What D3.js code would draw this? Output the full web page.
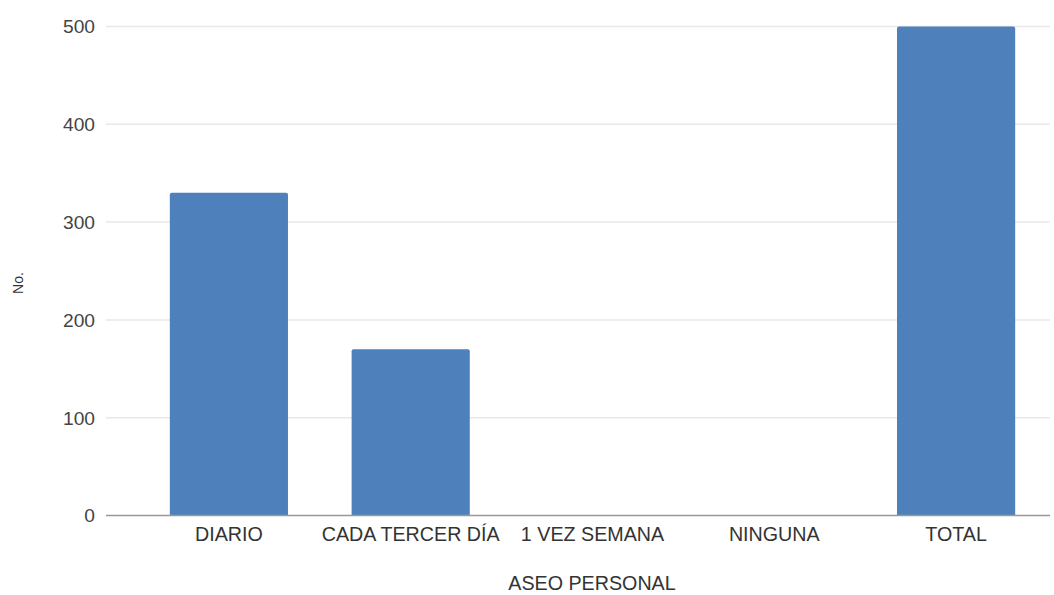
<!DOCTYPE html>
<html>
<head>
<meta charset="utf-8">
<script src="https://cdn.jsdelivr.net/npm/d3@7"></script>
<style>
html,body{margin:0;padding:0;background:#fff;}
svg{display:block;}
text{font-family:"Liberation Sans",Arial,sans-serif;}
</style>
</head>
<body>
<svg id="chart" width="1054" height="595"></svg>
<script>
const categories = ["DIARIO", "CADA TERCER DÍA", "1 VEZ SEMANA", "NINGUNA", "TOTAL"];
const values = [330, 170, 0, 0, 500];
const yTicks = [0, 100, 200, 300, 400, 500];
const xTitle = "ASEO PERSONAL";
const yTitle = "No.";

const svg = d3.select("#chart");
const plotLeft = 106, plotRight = 1050;
const x = d3.scaleBand().domain(categories).range([138, 1047]).paddingInner(0.35).paddingOuter(0.175);
const y = d3.scaleLinear().domain([0, 500]).range([515.5, 26.5]);

// gridlines
svg.append("g").selectAll("line").data(yTicks.filter(d => d !== 0)).join("line")
  .attr("x1", plotLeft).attr("x2", plotRight)
  .attr("y1", d => y(d)).attr("y2", d => y(d))
  .attr("stroke", "#e8e8e8").attr("stroke-width", 1.5);

// y tick labels
svg.append("g").selectAll("text").data(yTicks).join("text")
  .attr("x", 95).attr("y", d => y(d)).attr("dy", "0.36em")
  .attr("text-anchor", "end").attr("font-size", 19.2).attr("fill", "#444")
  .text(d => d);

// bars with slightly rounded top
const r = 2;
svg.append("g").selectAll("path").data(categories.map((c, i) => ({c, v: values[i]})).filter(d => d.v > 0)).join("path")
  .attr("fill", "#4e80bb")
  .attr("d", d => {
    const x0 = x(d.c), w = x.bandwidth(), y0 = y(d.v), y1 = y(0);
    return `M${x0},${y1}V${y0 + r}Q${x0},${y0} ${x0 + r},${y0}H${x0 + w - r}Q${x0 + w},${y0} ${x0 + w},${y0 + r}V${y1}Z`;
  });

// baseline
svg.append("line").attr("x1", plotLeft).attr("x2", plotRight)
  .attr("y1", y(0)).attr("y2", y(0)).attr("stroke", "#999").attr("stroke-width", 1.5);

// x tick labels
svg.append("g").selectAll("text").data(categories).join("text")
  .attr("x", d => x(d) + x.bandwidth() / 2).attr("y", 541)
  .attr("text-anchor", "middle").attr("font-size", 19.7).attr("fill", "#333")
  .text(d => d);

// axis titles
svg.append("text").attr("x", 592).attr("y", 590).attr("text-anchor", "middle")
  .attr("font-size", 19.7).attr("fill", "#333").text(xTitle);
svg.append("text").attr("transform", "translate(23,283) rotate(-90)").attr("text-anchor", "middle")
  .attr("font-size", 14).attr("fill", "#333").text(yTitle);
</script>
</body>
</html>
